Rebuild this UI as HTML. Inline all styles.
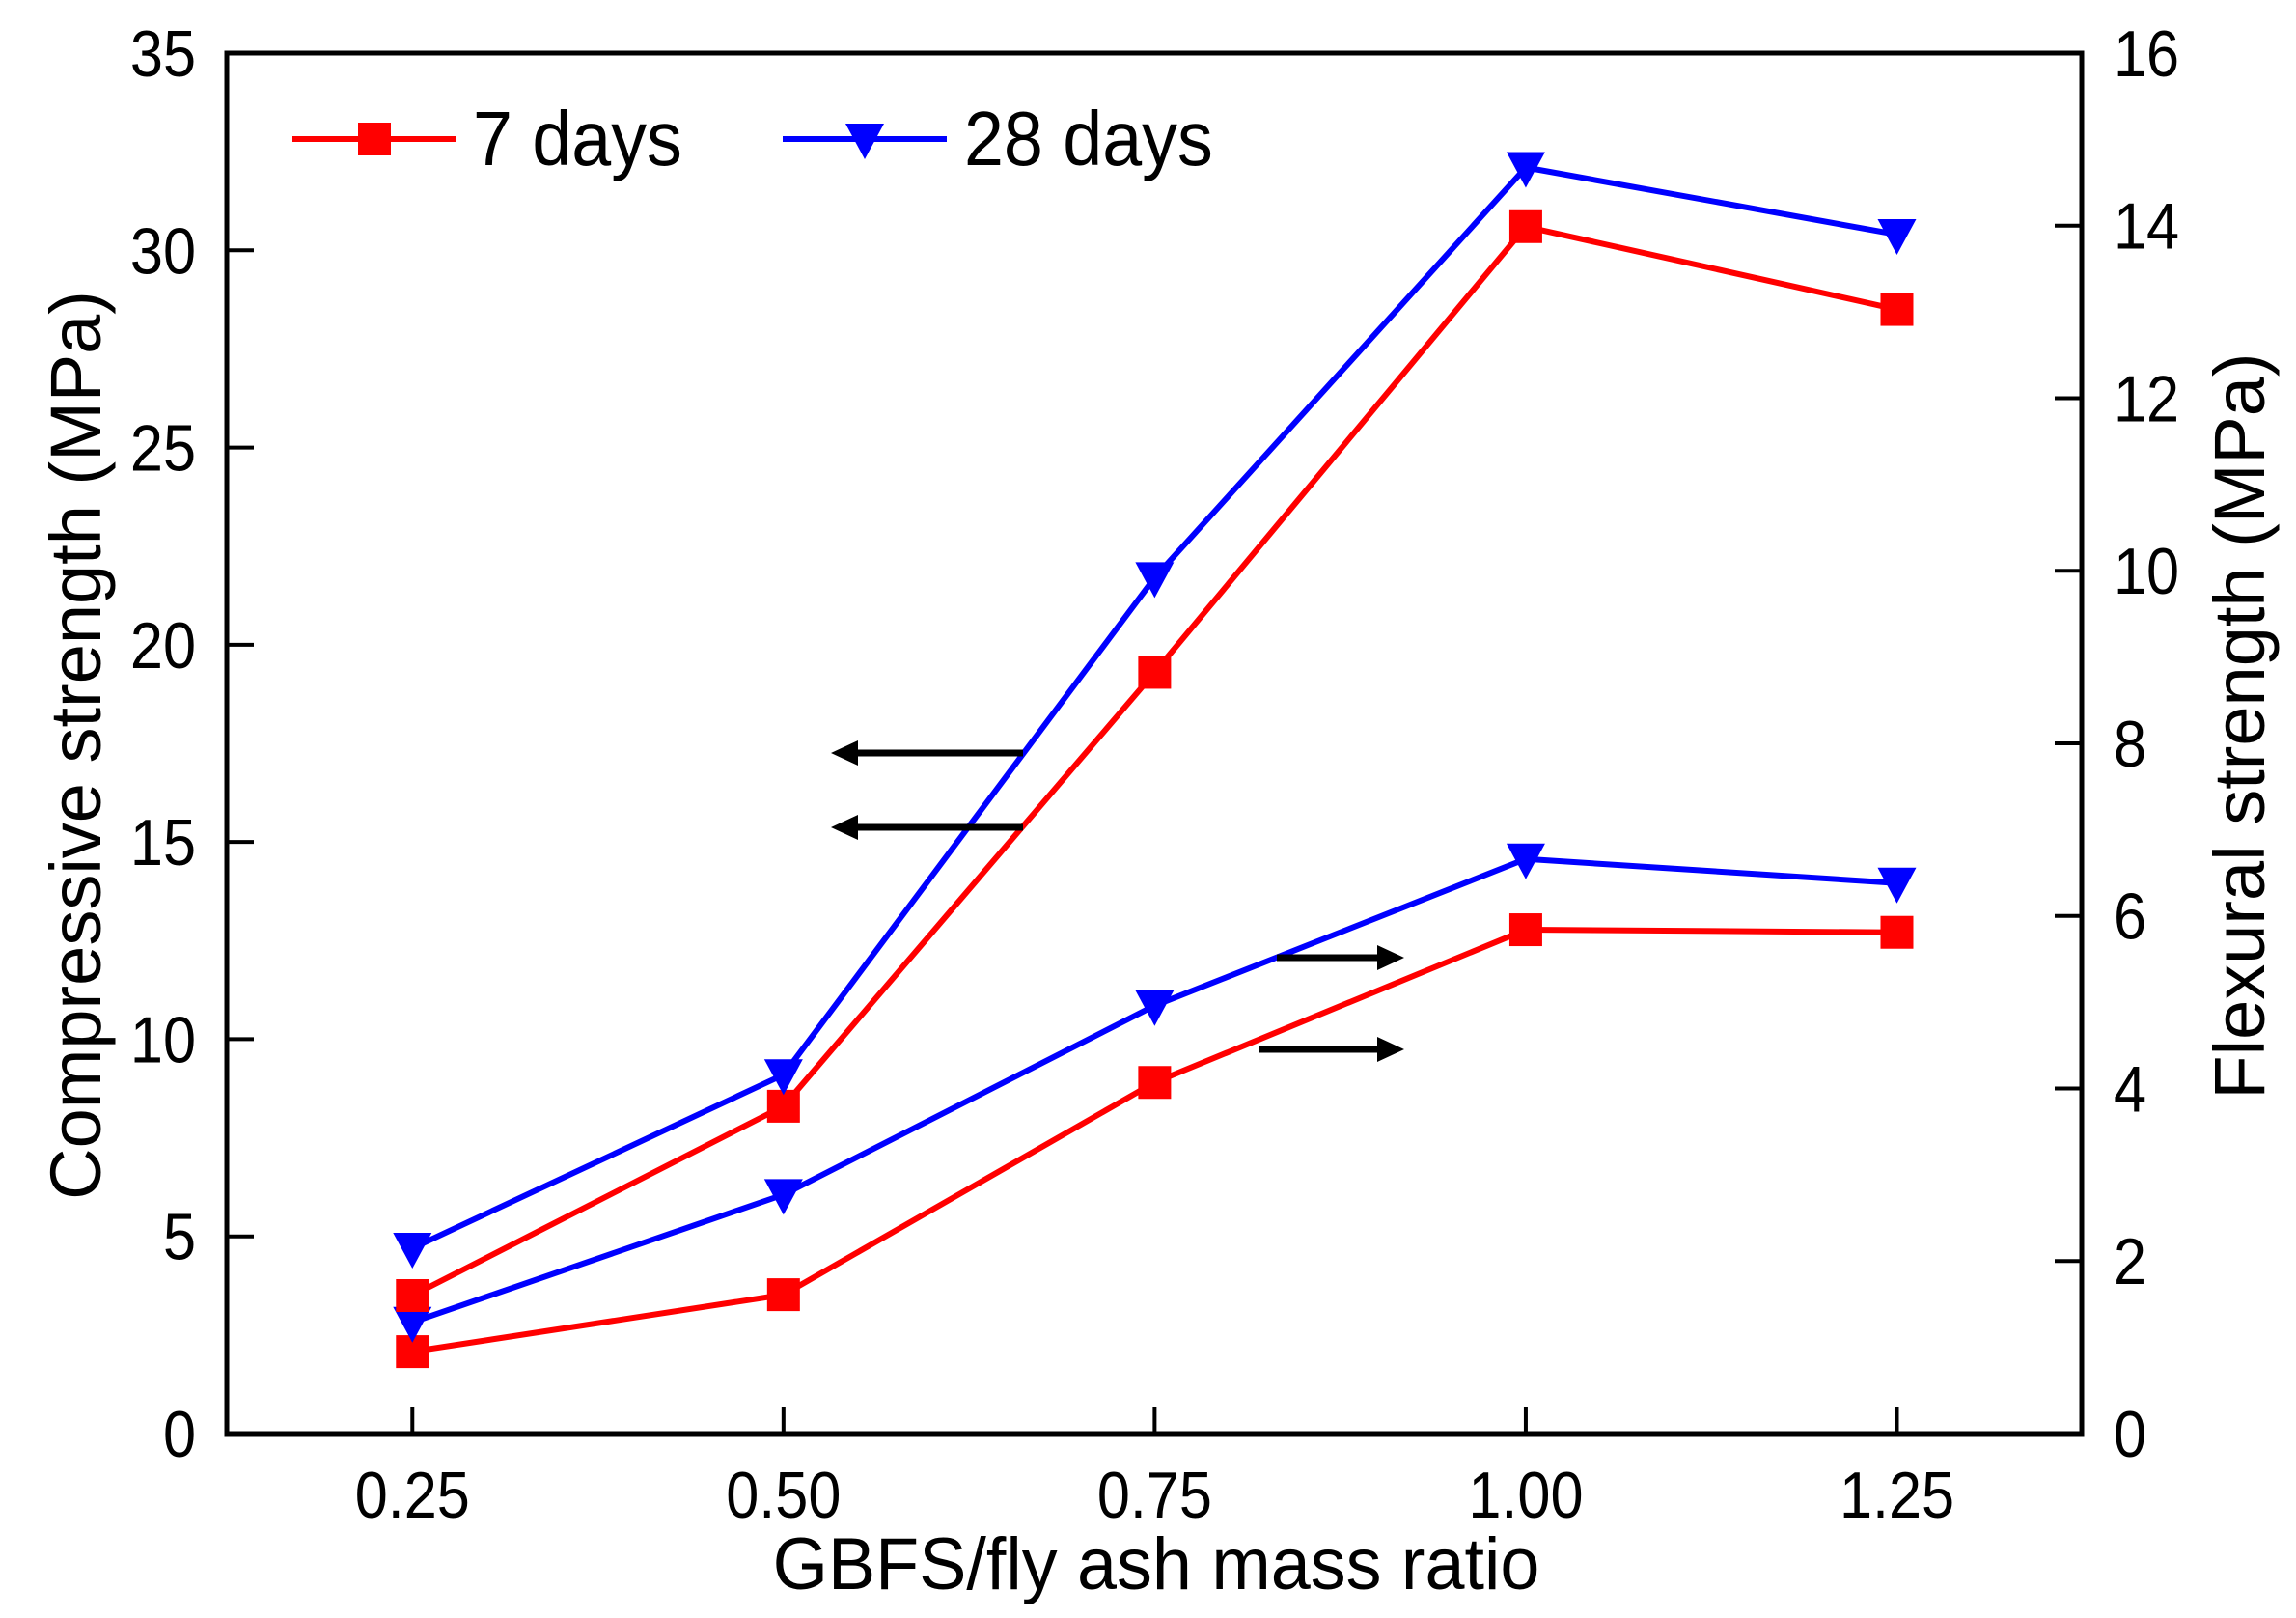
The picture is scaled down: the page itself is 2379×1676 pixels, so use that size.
<!DOCTYPE html>
<html><head><meta charset="utf-8"><style>
html,body{margin:0;padding:0;background:#fff;}
svg{display:block;font-family:"Liberation Sans",Arial,sans-serif;}
</style></head><body>
<svg id="chart" width="2379" height="1676" viewBox="0 0 2379 1676" xmlns="http://www.w3.org/2000/svg">
<g id="plot"></g>
</svg>
<script>
const categories = [0.25, 0.50, 0.75, 1.00, 1.25];
const xTickLabels = ["0.25", "0.50", "0.75", "1.00", "1.25"];
const comp7 = [3.5, 8.3, 19.3, 30.6, 28.5];
const comp28 = [4.7, 9.1, 21.7, 32.1, 30.4];
const flex7 = [0.95, 1.61, 4.07, 5.84, 5.81];
const flex28 = [1.29, 2.77, 4.96, 6.66, 6.38];
const leftTicks = [0, 5, 10, 15, 20, 25, 30, 35];
const rightTicks = [0, 2, 4, 6, 8, 10, 12, 14, 16];

const NS = "http://www.w3.org/2000/svg";
const L = 235, R = 2157, T = 55, B = 1485;
const xMin = 0.125, xMax = 1.3745;
const xs = v => L + (v - xMin) / (xMax - xMin) * (R - L);
const yL = v => B - v / 35 * (B - T);
const yR = v => B - v / 16 * (B - T);
const g = document.getElementById('plot');

function el(tag, attrs, parent) {
  const e = document.createElementNS(NS, tag);
  for (const k in attrs) e.setAttribute(k, attrs[k]);
  (parent || g).appendChild(e);
  return e;
}
function txt(s, x, y, size, anchor, parent, extra) {
  const t = el('text', Object.assign({x: x, y: y, 'font-size': size, 'text-anchor': anchor, fill: '#000'}, extra || {}), parent);
  t.textContent = s;
  return t;
}
function sq(x, sc) { return `translate(${x},0) scale(${sc},1) translate(${-x},0)`; }

const frame = el('rect', {x: L, y: T, width: R - L, height: B - T, fill: 'none', stroke: '#000', 'stroke-width': 5});



leftTicks.forEach(v => {
  const y = yL(v);
  if (v > 0 && v < 35) {
    const tk = el('line', {x1: L, x2: L + 28, y1: y, y2: y, stroke: '#000', 'stroke-width': 4});
    
    
  }
  const t = txt(String(v), 203, y + 24, 68, 'end', g, {transform: sq(203, 0.9)});
  
  
});
rightTicks.forEach(v => {
  const y = yR(v);
  if (v > 0 && v < 16) {
    const tk = el('line', {x1: R - 28, x2: R, y1: y, y2: y, stroke: '#000', 'stroke-width': 4});
    
    
  }
  const t = txt(String(v), 2190, y + 24, 68, 'start', g, {transform: sq(2190, 0.9)});
  
  
});
categories.forEach((c, i) => {
  const x = xs(c);
  const tk = el('line', {x1: x, x2: x, y1: B, y2: B - 28, stroke: '#000', 'stroke-width': 4});
  
  
  const t = txt(xTickLabels[i], x, 1572, 68, 'middle', g, {transform: sq(x, 0.9)});
  
  
});

let t = txt('Compressive strength (MPa)', 0, 0, 74, 'middle', g, {transform: 'translate(104,772) rotate(-90)'});


t = txt('Flexural strength (MPa)', 0, 0, 74, 'middle', g, {transform: 'translate(2346,752) rotate(-90)'});


t = txt('GBFS/fly ash mass ratio', 1198, 1646, 76, 'middle', g, {transform: sq(1198, 0.97)});



function square(x, y, name) {
  const s = el('rect', {x: x - 17, y: y - 17, width: 34, height: 34, fill: '#ff0000'});
  
  
}
function tri(x, y, name) {
  const p = el('polygon', {points: `${x - 20},${y - 16} ${x + 20},${y - 16} ${x},${y + 21}`, fill: '#0000ff'});
  
  
}
function series(vals, yf, color, marker, name) {
  const pts = vals.map((v, i) => `${xs(categories[i])},${yf(v)}`).join(' ');
  const pl = el('polyline', {points: pts, fill: 'none', stroke: color, 'stroke-width': 6, 'stroke-linejoin': 'round'});
  
  
  vals.forEach((v, i) => marker(xs(categories[i]), yf(v), name + '-point'));
}
series(flex7, yR, '#ff0000', square, 'flexural-7-days');
series(flex28, yR, '#0000ff', tri, 'flexural-28-days');
series(comp7, yL, '#ff0000', square, 'compressive-7-days');
series(comp28, yL, '#0000ff', tri, 'compressive-28-days');

function arrow(x1, x2, y, name) {
  const dir = x2 > x1 ? 1 : -1;
  const ln = el('line', {x1: x1, x2: x2 - dir * 20, y1: y, y2: y, stroke: '#000', 'stroke-width': 7});
  
  
  const hd = el('polygon', {points: `${x2},${y} ${x2 - dir * 28},${y - 13} ${x2 - dir * 28},${y + 13}`, fill: '#000'});
  
  
}
arrow(1060, 861, 780, 'arrow-left-upper');
arrow(1060, 861, 857, 'arrow-left-lower');
arrow(1323, 1455, 992, 'arrow-right-upper');
arrow(1305, 1455, 1087, 'arrow-right-lower');

const lg = el('g', {});


let l = el('line', {x1: 303, x2: 472, y1: 144, y2: 144, stroke: '#ff0000', 'stroke-width': 6}, lg);


square(388, 144, 'legend-marker-7-days');
t = txt('7 days', 490, 171, 80, 'start', lg, {transform: sq(490, 0.92)});


l = el('line', {x1: 811, x2: 981, y1: 144, y2: 144, stroke: '#0000ff', 'stroke-width': 6}, lg);


tri(896, 144, 'legend-marker-28-days');
t = txt('28 days', 999, 171, 80, 'start', lg, {transform: sq(999, 0.92)});


</script>
</body></html>
